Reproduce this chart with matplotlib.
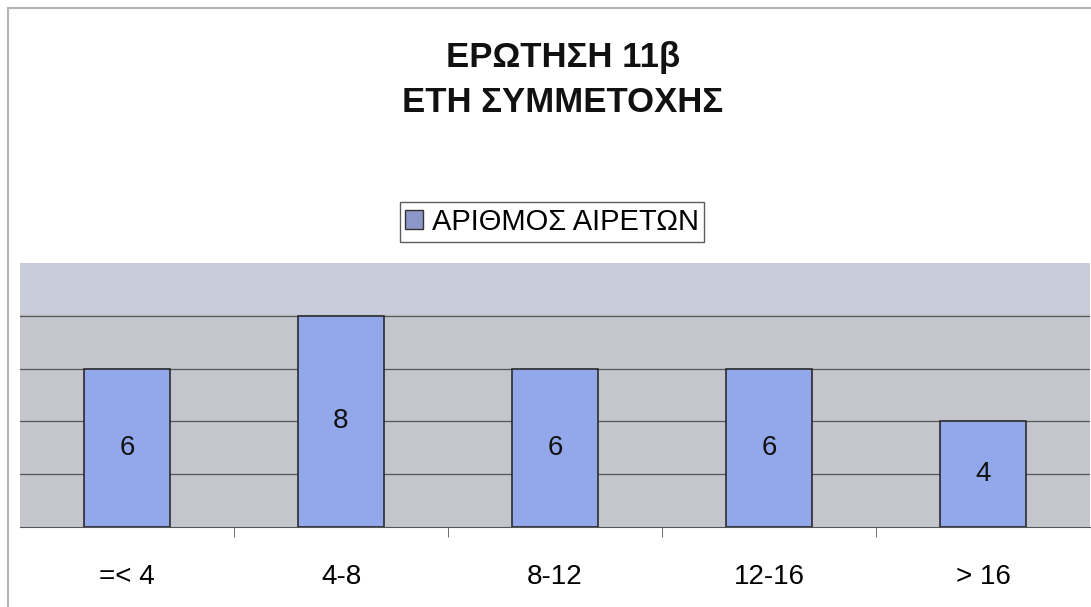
import matplotlib
matplotlib.use("Agg")
import matplotlib.pyplot as plt
from matplotlib.lines import Line2D

plt.rcParams["font.family"] = ["Liberation Sans", "DejaVu Sans"]

categories = ["=< 4", "4-8", "8-12", "12-16", "> 16"]
values = [6, 8, 6, 6, 4]
series_name = "ΑΡΙΘΜΟΣ ΑΙΡΕΤΩΝ"
title = "ΕΡΩΤΗΣΗ 11β\nΕΤΗ ΣΥΜΜΕΤΟΧΗΣ"

bar_color = "#93a8ea"
plot_bg = "#c5c6cd"

fig = plt.figure(figsize=(10.91, 6.07), dpi=100)
ax = fig.add_axes([20 / 1091, 1 - 527 / 607, 1070 / 1091, 264 / 607])
ax.set_facecolor(plot_bg)

x = range(len(categories))
bars = ax.bar(x, values, width=0.4, color=bar_color, edgecolor="#2a2a2a",
              linewidth=1.2, zorder=3, label=series_name)

# lighter band at the top of the plot area
ax.axhspan(8.1, 10, color="#c9ccda", zorder=1)
for y in [2, 4, 6, 8]:
    ax.axhline(y, color="#555555", linewidth=0.9, zorder=2)

for i, v in enumerate(values):
    ax.text(i, v / 2, str(v), ha="center", va="center", fontsize=20, color="#111111", zorder=4)

ax.set_xlim(-0.5, len(categories) - 0.5)
ax.set_ylim(0, 10)
ax.set_yticks([])
ax.set_xticks(list(x))
ax.set_xticklabels(categories, fontsize=20)
ax.set_xticks([i + 0.5 for i in range(len(categories) - 1)], minor=True)
ax.tick_params(axis="x", which="major", length=0, pad=27)
ax.tick_params(axis="x", which="minor", length=7, color="#555555", direction="out")
for side in ["top", "right", "left"]:
    ax.spines[side].set_visible(False)
ax.spines["bottom"].set_color("#555555")

fig.text(0.516, 1 - 80 / 607, title, ha="center", va="center", fontsize=25,
         fontweight="bold", linespacing=1.5, color="#111111")

handle = plt.Rectangle((0, 0), 1, 1, facecolor="#8c96c8", edgecolor="#333333")
leg = fig.legend([handle], [series_name], loc="center", bbox_to_anchor=(552 / 1091, 1 - 222 / 607),
                 fontsize=21, frameon=True, fancybox=False, edgecolor="#333333",
                 handlelength=0.6, handleheight=0.6, handletextpad=0.3, borderpad=0.2,
                 borderaxespad=0)
leg.get_frame().set_linewidth(1.0)

# outer frame lines of the original scan
fig.add_artist(Line2D([8 / 1091, 8 / 1091], [0, 1 - 8 / 607], color="#b5b5b5", linewidth=1.5))
fig.add_artist(Line2D([8 / 1091, 1], [1 - 8 / 607, 1 - 8 / 607], color="#b5b5b5", linewidth=1.5))

fig.savefig("out.png", dpi=100)
